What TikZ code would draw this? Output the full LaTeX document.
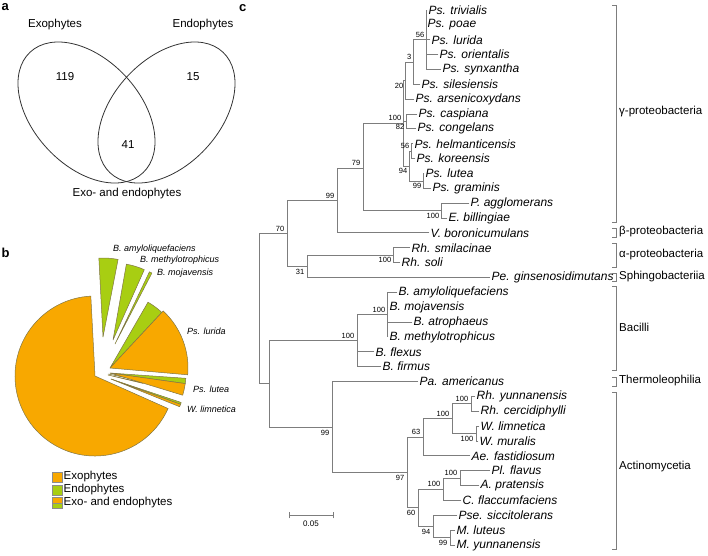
\documentclass[tikz,border=0pt]{standalone}
\usepackage{fontspec}
\setmainfont[Ligatures=CommonOff]{Liberation Sans}
\usetikzlibrary{positioning}

\definecolor{exo}{RGB}{248,168,0}
\definecolor{endo}{RGB}{168,206,18}
\definecolor{branch}{RGB}{125,125,125}
\definecolor{wedge}{RGB}{128,118,70}

\newcommand{\ly}[1]{10+14.86*(#1-1)}
% apex, from, to (visual degrees, ccw), radius, fill
\newcommand{\pieslice}[5]{\filldraw[draw=wedge, line width=0.5pt, fill=#5, line join=round] #1 -- ++({-(#2)}:#4) arc[start angle={-(#2)}, end angle={-(#3)}, radius=#4] -- cycle;}

\begin{document}
\begin{tikzpicture}[x=1pt, y=-1pt,
    leaf/.style={anchor=west, inner sep=1.5pt, font=\fontsize{12}{12}\selectfont\itshape},
    bsa/.style={anchor=south east, inner sep=0.6pt, font=\fontsize{7.5}{8}\selectfont},
    bsb/.style={anchor=north east, inner sep=0.6pt, font=\fontsize{7.5}{8}\selectfont},
    clade/.style={anchor=west, inner sep=0pt, font=\fontsize{11.5}{12}\selectfont},
    br/.style={draw=branch, line width=0.9pt, line cap=rect},
    piename/.style={anchor=west, inner sep=0pt, font=\fontsize{9}{9}\selectfont\itshape},
    venn/.style={inner sep=0pt, font=\fontsize{11.5}{12}\selectfont},
    panel/.style={anchor=base west, inner sep=0pt, font=\fontsize{13}{13}\selectfont\bfseries}]

\useasboundingbox (0,0) rectangle (708,555);

% ---------- a
\node[panel] (pa) at (1.5,10.5) {a};
\draw[line width=0.8pt, draw=black!80, rotate around={-47:(86.5,112.5)}] (86.5,112.5) ellipse [x radius=82.6, y radius=53.3];
\draw[line width=0.8pt, draw=black!80, rotate around={47:(166.5,112.5)}] (166.5,112.5) ellipse [x radius=82.6, y radius=53.3];
\node[venn] (vexo) at (55,25) {Exophytes};
\node[venn] (vendo) at (203,25) {Endophytes};
\node[venn] (v119) at (65,77) {119};
\node[venn] (v15) at (193,77) {15};
\node[venn] (v41) at (128,145) {41};
\node[venn] (vboth) at (127,194) {Exo- and endophytes};

% ---------- b
\node[panel] (pb) at (1.5,257.5) {b};
\pieslice{(95,376)}{93}{336}{80}{exo} % exophytes
\pieslice{(103,337)}{79}{93}{79}{endo} % amyloliquefaciens
\pieslice{(113,340)}{66}{80}{77}{endo} % methylotrophicus
\pieslice{(115,344)}{62.5}{64.5}{80}{endo} % mojavensis
\pieslice{(110,368)}{47}{60}{76}{endo} % lurida
\pieslice{(110,368)}{-5}{47}{78}{exo}
\pieslice{(108,374)}{-11.5}{-10.5}{40}{endo}
\pieslice{(108,375)}{-13.5}{-12.5}{36}{exo}
\pieslice{(110,373)}{-8}{-4}{76}{endo} % lutea
\pieslice{(110,373)}{-17}{-8}{76}{exo}
\pieslice{(111,379)}{-20}{-18.5}{74}{endo} % limnetica
\pieslice{(111,379)}{-22}{-20}{74}{exo}

\node[piename] (lamy) at (113,249) {B. amyloliquefaciens};
\node[piename] (lmet) at (140,260) {B. methylotrophicus};
\node[piename] (lmoj) at (157,273) {B. mojavensis};
\node[piename] (llur) at (187,331) {Ps. lurida};
\node[piename] (llut) at (193,389) {Ps. lutea};
\node[piename] (llim) at (187,409) {W. limnetica};

\filldraw[fill=exo, draw=black!45, line width=0.5pt] (52,472) rectangle (62,482);
\filldraw[fill=endo, draw=black!45, line width=0.5pt] (52,485) rectangle (62,495);
\fill[exo] (52,497.5) rectangle (62,503);
\fill[endo] (52,503) rectangle (62,508);
\draw[draw=black!45, line width=0.5pt] (52,497.5) rectangle (62,508) (52,503) -- (62,503);
\node[venn, anchor=west] (kexo) at (63.5,477) {Exophytes};
\node[venn, anchor=west] (kendo) at (63.5,490) {Endophytes};
\node[venn, anchor=west] (kboth) at (63.5,503) {Exo- and endophytes};

% ---------- c
\node[panel] (pc) at (239,11) {c};

\coordinate (root) at (259,308.7);
\coordinate (n70) at (287,233.5);
\coordinate (n99) at (337,200.5);
\coordinate (n79) at (363,168);
\coordinate (n100P) at (403,123);
\coordinate (n20) at (405,80.6);
\coordinate (n3) at (413,62);
\coordinate (n56a) at (426,39.7);
\coordinate (nCC) at (406,121.5);
\coordinate (n94) at (409,166);
\coordinate (n56b) at (411,151);
\coordinate (n99b) at (423,181);
\coordinate (n100E) at (441,210.6);
\coordinate (n31) at (307,266.4);
\coordinate (nRh) at (393,255.2);
\coordinate (nLow) at (269,383.8);
\coordinate (nBac) at (357,340.6);
\coordinate (nB2) at (387,314.6);
\coordinate (n99A) at (332,427);
\coordinate (n97) at (407,472.4);
\coordinate (n63) at (423,437.2);
\coordinate (n100A) at (452,418.7);
\coordinate (nRh2) at (471,403.8);
\coordinate (nW) at (476,433.5);
\coordinate (n60) at (418,507.6);
\coordinate (n100C) at (443,489);
\coordinate (n100D) at (460,478.1);
\coordinate (n94b) at (433,526.4);
\coordinate (n99M) at (450,537.5);

\node[leaf] (triv) at (427,{\ly{1}}) {Ps. trivialis};
\node[leaf] (poae) at (426,{\ly{2}}) {Ps. poae};
\node[leaf] (luri) at (430,{\ly{3}}) {Ps. lurida};
\node[leaf] (orie) at (438,{\ly{4}}) {Ps. orientalis};
\node[leaf] (synx) at (441,{\ly{5}}) {Ps. synxantha};
\node[leaf] (sile) at (420,{\ly{6}}) {Ps. silesiensis};
\node[leaf] (arse) at (414,{\ly{7}}) {Ps. arsenicoxydans};
\node[leaf] (casp) at (417,{\ly{8}}) {Ps. caspiana};
\node[leaf] (cong) at (416,{\ly{9}}) {Ps. congelans};
\node[leaf] (helm) at (413,{\ly{10}}) {Ps. helmanticensis};
\node[leaf] (kore) at (415,{\ly{11}}) {Ps. koreensis};
\node[leaf] (lute) at (424,{\ly{12}}) {Ps. lutea};
\node[leaf] (gram) at (431,{\ly{13}}) {Ps. graminis};
\node[leaf] (aggl) at (469,{\ly{14}}) {P. agglomerans};
\node[leaf] (bill) at (447,{\ly{15}}) {E. billingiae};
\node[leaf] (boro) at (429,{\ly{16}}) {V. boronicumulans};
\node[leaf] (smil) at (410,{\ly{17}}) {Rh. smilacinae};
\node[leaf] (soli) at (400,{\ly{18}}) {Rh. soli};
\node[leaf] (pegi) at (490,{\ly{19}}) {Pe. ginsenosidimutans};
\node[leaf] (amyl) at (397,{\ly{20}}) {B. amyloliquefaciens};
\node[leaf] (moja) at (388,{\ly{21}}) {B. mojavensis};
\node[leaf] (atro) at (412,{\ly{22}}) {B. atrophaeus};
\node[leaf] (meth) at (388,{\ly{23}}) {B. methylotrophicus};
\node[leaf] (flex) at (374,{\ly{24}}) {B. flexus};
\node[leaf] (firm) at (381,{\ly{25}}) {B. firmus};
\node[leaf] (amer) at (418,{\ly{26}}) {Pa. americanus};
\node[leaf] (ryun) at (475,{\ly{27}}) {Rh. yunnanensis};
\node[leaf] (rcer) at (479,{\ly{28}}) {Rh. cercidiphylli};
\node[leaf] (wlim) at (479,{\ly{29}}) {W. limnetica};
\node[leaf] (wmur) at (478,{\ly{30}}) {W. muralis};
\node[leaf] (aefa) at (470,{\ly{31}}) {Ae. fastidiosum};
\node[leaf] (plfl) at (490,{\ly{32}}) {Pl. flavus};
\node[leaf] (apra) at (479,{\ly{33}}) {A. pratensis};
\node[leaf] (cfla) at (461,{\ly{34}}) {C. flaccumfaciens};
\node[leaf] (psic) at (457,{\ly{35}}) {Pse. siccitolerans};
\node[leaf] (mlut) at (455,{\ly{36}}) {M. luteus};
\node[leaf] (myun) at (455,{\ly{37}}) {M. yunnanensis};

\draw[br] (root) |- (n70);
\draw[br] (root) |- (nLow);
\draw[br] (n70) |- (n99);
\draw[br] (n70) |- (n31);
\draw[br] (n99) |- (n79);
\draw[br] (n99) |- (boro.west);
\draw[br] (n79) |- (n100P);
\draw[br] (n79) |- (n100E);
\draw[br] (n100P) |- (n20);
\draw[br] (n100P) |- (nCC);
\draw[br] (n100P) |- (n94);
\draw[br] (n20) |- (n3);
\draw[br] (n20) |- (arse.west);
\draw[br] (n3) |- (n56a);
\draw[br] (n3) |- (sile.west);
\draw[br] (n56a) |- (triv.west);
\draw[br] (n56a) |- (poae.west);
\draw[br] (n56a) |- (luri.west);
\draw[br] (n56a) |- (orie.west);
\draw[br] (n56a) |- (synx.west);
\draw[br] (nCC) |- (casp.west);
\draw[br] (nCC) |- (cong.west);
\draw[br] (n94) |- (n56b);
\draw[br] (n94) |- (n99b);
\draw[br] (n56b) |- (helm.west);
\draw[br] (n56b) |- (kore.west);
\draw[br] (n99b) |- (lute.west);
\draw[br] (n99b) |- (gram.west);
\draw[br] (n100E) |- (aggl.west);
\draw[br] (n100E) |- (bill.west);
\draw[br] (n31) |- (nRh);
\draw[br] (n31) |- (pegi.west);
\draw[br] (nRh) |- (smil.west);
\draw[br] (nRh) |- (soli.west);
\draw[br] (nLow) |- (nBac);
\draw[br] (nLow) |- (n99A);
\draw[br] (nBac) |- (nB2);
\draw[br] (nBac) |- (flex.west);
\draw[br] (nBac) |- (firm.west);
\draw[br] (nB2) |- (amyl.west);
\draw[br] (nB2) |- (moja.west);
\draw[br] (nB2) |- (atro.west);
\draw[br] (nB2) |- (meth.west);
\draw[br] (n99A) |- (amer.west);
\draw[br] (n99A) |- (n97);
\draw[br] (n97) |- (n63);
\draw[br] (n97) |- (n60);
\draw[br] (n63) |- (n100A);
\draw[br] (n63) |- (aefa.west);
\draw[br] (n100A) |- (nRh2);
\draw[br] (n100A) |- (nW);
\draw[br] (nRh2) |- (ryun.west);
\draw[br] (nRh2) |- (rcer.west);
\draw[br] (nW) |- (wlim.west);
\draw[br] (nW) |- (wmur.west);
\draw[br] (n60) |- (n100C);
\draw[br] (n60) |- (n94b);
\draw[br] (n100C) |- (n100D);
\draw[br] (n100C) |- (cfla.west);
\draw[br] (n100D) |- (plfl.west);
\draw[br] (n100D) |- (apra.west);
\draw[br] (n94b) |- (psic.west);
\draw[br] (n94b) |- (n99M);
\draw[br] (n99M) |- (mlut.west);
\draw[br] (n99M) |- (myun.west);

% bootstrap values
\node[bsa] (b56a) at (425,38.5) {56};
\node[bsa] (b3) at (412,60.5) {3};
\node[bsb] (b20) at (404,82) {20};
\node[bsa] (b100P) at (402,121.5) {100};
\node[bsb] (b82) at (405,123) {82};
\node[bsa] (b56b) at (410,149.5) {56};
\node[bsb] (b94) at (408,167.5) {94};
\node[bsb] (b99b) at (422,182.5) {99};
\node[bsa] (b79) at (361,166.5) {79};
\node[bsb] (b100E) at (440,212) {100};
\node[bsa] (b99) at (335,199) {99};
\node[bsa] (b70) at (285,232) {70};
\node[bsb] (b100R) at (392,256.5) {100};
\node[bsb] (b31) at (305,268) {31};
\node[bsa] (b100B2) at (386,313) {100};
\node[bsa] (b100Bac) at (355,339) {100};
\node[bsb] (b99A) at (330,429) {99};
\node[bsa] (b100Rh2) at (469,402) {100};
\node[bsb] (b100W) at (474,435) {100};
\node[bsa] (b100A) at (450,417) {100};
\node[bsa] (b63) at (421,435.5) {63};
\node[bsb] (b97) at (405,474) {97};
\node[bsa] (b100D) at (458,476.5) {100};
\node[bsa] (b100C) at (441,487.5) {100};
\node[bsb] (b60) at (416,509) {60};
\node[bsb] (b94b) at (431,528) {94};
\node[bsb] (b99M) at (448,539) {99};

% scale bar
\coordinate (sbl) at (289,515);
\coordinate (sbr) at (333,515);
\draw[br] (sbl) -- (sbr);
\draw[br] (sbl) ++(0,-3) -- ++(0,6);
\draw[br] (sbr) ++(0,-3) -- ++(0,6);
\node[inner sep=0pt, font=\fontsize{8}{8}\selectfont] (sbt) at (311,524) {0.05};

% clades
\draw[br] (612,5) -- (616,5) -- (616,222) -- (612,222);
\draw[br] (612,228) -- (616,228) -- (616,237) -- (612,237);
\draw[br] (612,243) -- (616,243) -- (616,267) -- (612,267);
\draw[br] (612,273) -- (616,273) -- (616,281) -- (612,281);
\draw[br] (612,286) -- (616,286) -- (616,370) -- (612,370);
\draw[br] (612,377) -- (616,377) -- (616,386) -- (612,386);
\draw[br] (612,392) -- (616,392) -- (616,549) -- (612,549);
\node[clade] (cg) at (619,112) {γ-proteobacteria};
\node[clade] (cb) at (619,232) {β-proteobacteria};
\node[clade] (ca) at (619,255) {α-proteobacteria};
\node[clade] (cs) at (619,277) {Sphingobacteriia};
\node[clade] (cba) at (619,327) {Bacilli};
\node[clade] (ct) at (619,381) {Thermoleophilia};
\node[clade] (cac) at (619,467) {Actinomycetia};

\end{tikzpicture}
\end{document}
